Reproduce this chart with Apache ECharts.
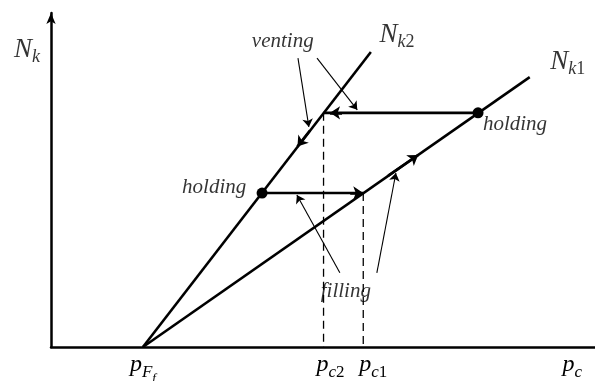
<!DOCTYPE html>
<html>
<head>
<meta charset="utf-8">
<script src="https://cdn.jsdelivr.net/npm/echarts@6/dist/echarts.min.js"></script>
<style>
html, body { margin: 0; padding: 0; background: #fff; }
#chart { width: 595px; height: 381px; }
</style>
</head>
<body>
<div id="chart"></div>
<script>
// schematic units: p_c on x (0..100), N_k on y (0..100)
const nk2Line = [[16.9, 0], [58.8, 88.3]];
const nk1Line = [[16.9, 0], [88.0, 80.8]];
const ventingPath = [[78.5, 70.1], [50.1, 70.1]];
const fillingPath = [[38.8, 46.1], [57.4, 46.1]];
const holdingPoints = [[78.5, 70.1], [38.8, 46.1]];
const dashedPc2 = [[50.1, 70.1], [50.1, 0]];
const dashedPc1 = [[57.4, 46.1], [57.4, 0]];

// short pieces that only carry an arrow head on the thick paths
const pathArrows = [
  [[47.6, 64.8], [45.3, 60.0]],
  [[62.0, 51.3], [67.5, 57.5]],
  [[53.5, 70.1], [51.3, 70.1]],
  [[55.0, 46.1], [57.4, 46.1]]
];
// thin pointers from the words
const pointerArrows = [
  [[45.4, 86.5], [47.4, 65.9]],
  [[48.9, 86.5], [56.3, 71.0]],
  [[53.1, 22.2], [45.2, 45.5]],
  [[59.9, 22.2], [63.4, 52.1]]
];

const labelPositions = [[-4.4, 88.9], [63.6, 93.4], [95.0, 85.3], [42.6, 91.6], [85.3, 66.5], [30.0, 47.9], [54.2, 16.5]];
const labelTexts = [
  '{N|N}{k|k}',
  '{N|N}{k|k}{d|2}',
  '{N|N}{k|k}{d|1}',
  '{w|venting}',
  '{w|holding}',
  '{w|holding}',
  '{w|filling}'
];

const xTickValues = [16.9, 50.1, 57.4, 95.8];
const xTickLabels = [
  '{p|p}{s|F}{ss|f}',
  '{g1| }{p|p}{s|c}{sd|2}',
  '{g2| }{p|p}{s|c}{sd|1}',
  '{p|p}{s|c}'
];

const serif = 'Liberation Serif';
const rich = {
  w: { fontFamily: serif, fontStyle: 'italic', fontSize: 21, color: '#000' },
  N: { fontFamily: serif, fontStyle: 'italic', fontSize: 27, lineHeight: 27, verticalAlign: 'top', color: '#000' },
  k: { fontFamily: serif, fontStyle: 'italic', fontSize: 18, lineHeight: 18, padding: [12, 0, 0, 0], verticalAlign: 'top', color: '#000' },
  d: { fontFamily: serif, fontSize: 18, lineHeight: 18, padding: [12, 0, 0, 0], verticalAlign: 'top', color: '#000' },
  p: { fontFamily: serif, fontStyle: 'italic', fontSize: 24, lineHeight: 24, verticalAlign: 'top', color: '#000' },
  s: { fontFamily: serif, fontStyle: 'italic', fontSize: 17, lineHeight: 17, padding: [11, 0, 0, 0], verticalAlign: 'top', color: '#000' },
  sd: { fontFamily: serif, fontSize: 17, lineHeight: 17, padding: [11, 0, 0, 0], verticalAlign: 'top', color: '#000' },
  ss: { fontFamily: serif, fontStyle: 'italic', fontSize: 13, lineHeight: 13, padding: [19, 0, 0, 0], verticalAlign: 'top', color: '#000' },
  g1: { width: 14, fontSize: 10 },
  g2: { width: 20, fontSize: 10 }
};

const myChart = echarts.init(document.getElementById('chart'));

function plain(data, width, dashed) {
  return {
    type: 'line',
    data: data,
    showSymbol: false,
    silent: true,
    lineStyle: { color: '#000', width: width, type: dashed ? [8, 5] : 'solid' },
    z: 3
  };
}

myChart.setOption({
  animation: false,
  backgroundColor: '#fff',
  grid: { left: 51, right: 0, top: 13, bottom: 34, outerBoundsMode: 'none' },
  xAxis: {
    type: 'value',
    min: 0,
    max: 100,
    splitLine: { show: false },
    axisTick: { show: false },
    axisLine: { show: true, lineStyle: { color: '#000', width: 2.5 } },
    axisLabel: {
      customValues: xTickValues,
      margin: 6,
      color: '#000',
      formatter: function (v) {
        const i = xTickValues.findIndex(t => Math.abs(t - v) < 1e-6);
        return i < 0 ? '' : xTickLabels[i];
      },
      rich: rich
    }
  },
  yAxis: {
    type: 'value',
    min: 0,
    max: 100,
    splitLine: { show: false },
    axisTick: { show: false },
    axisLabel: { show: false },
    axisLine: {
      show: true,
      symbol: ['none', 'arrow'],
      symbolSize: [7, 11],
      lineStyle: { color: '#000', width: 2.5 }
    }
  },
  series: [
    plain(nk2Line, 2.6),
    plain(nk1Line, 2.6),
    plain(ventingPath, 2.6),
    plain(fillingPath, 2.6),
    plain(dashedPc2, 1.3, true),
    plain(dashedPc1, 1.3, true),
    {
      type: 'lines',
      coordinateSystem: 'cartesian2d',
      data: pathArrows.map(c => ({ coords: c })),
      symbol: ['none', 'arrow'],
      symbolSize: [0, 10],
      lineStyle: { color: '#000', width: 2.6, opacity: 1 },
      z: 4
    },
    {
      type: 'lines',
      coordinateSystem: 'cartesian2d',
      data: pointerArrows.map(c => ({ coords: c })),
      symbol: ['none', 'arrow'],
      symbolSize: [0, 8],
      lineStyle: { color: '#000', width: 1.1, opacity: 1 },
      z: 4
    },
    {
      type: 'scatter',
      data: holdingPoints,
      symbolSize: 11,
      itemStyle: { color: '#000', opacity: 1 },
      z: 5
    },
    {
      type: 'scatter',
      clip: false,
      silent: true,
      symbolSize: 1,
      itemStyle: { color: 'rgba(0,0,0,0)' },
      data: labelPositions.map((pos, i) => ({ value: pos, name: labelTexts[i] })),
      label: {
        show: true,
        position: 'inside',
        color: '#000',
        textBorderWidth: 0,
        formatter: p => p.name,
        rich: rich
      },
      z: 6
    }
  ]
});
</script>
</body>
</html>
